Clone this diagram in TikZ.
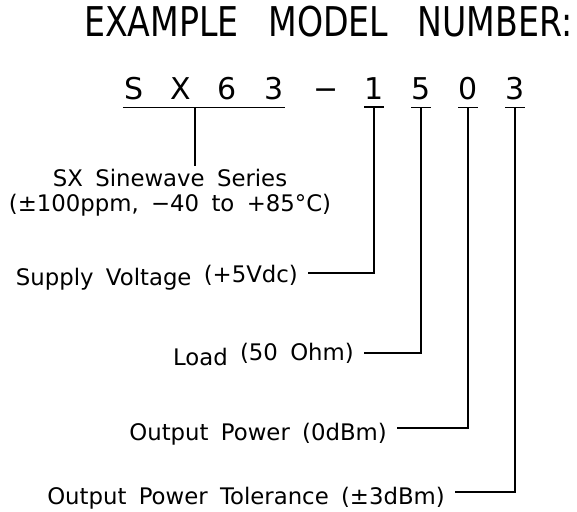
\documentclass[tikz,border=0pt]{standalone}
\usepackage{fontspec}
\newfontfamily\titlefont[FakeStretch=0.81,WordSpace=2.8]{DejaVu Sans}
\newfontfamily\labelfont[WordSpace=1.7]{DejaVu Sans}
\newcommand{\lblsize}{\labelfont\fontsize{22.8}{25}\selectfont}

\begin{document}
\begin{tikzpicture}[x=1pt,y=-1pt,
  lead/.style={line width=1.6pt},
  digit/.style={inner xsep=1.5pt,inner ysep=8pt,anchor=base,font=\labelfont\fontsize{30}{36}\selectfont},
  partlabel/.style={inner xsep=10pt,inner ysep=0pt,text height=24pt,text depth=0pt,anchor=base east,font=\lblsize}]
  \useasboundingbox (0,0) rectangle (577,511);

  % Title
  \node[anchor=base west,inner sep=0pt,font=\titlefont\fontsize{41}{48}\selectfont] (title) at (84,37) {EXAMPLE MODEL NUMBER:};

  % Model number, one node per character
  \foreach \ch/\x [count=\i] in {S/134,X/181,6/227,3/274,\symbol{"2212}/326,1/374,5/421,0/468,3/515}
    \node[digit] (c\i) at (\x,99) {\ch};

  % Series
  \node[anchor=north,align=center,inner xsep=0pt,inner ysep=3pt,font=\lblsize] (series) at (170,166)
    {SX Sinewave Series\\(±100ppm, \symbol{"2212}40 to +85°C)};
  \draw[lead] (c1.south west) -- (c4.south east);
  \coordinate (ul) at (195,107);
  \draw[lead] (ul) -- (ul |- series.north);

  % Option labels
  \node[partlabel] (supply) at (308,285) {Supply Voltage \raisebox{3pt}{(+5Vdc)}};
  \node[partlabel] (load) at (364,365) {Load \raisebox{5pt}{(50 Ohm)}};
  \node[partlabel] (opower) at (397,440) {Output Power (0dBm)};
  \node[partlabel] (ptol) at (455,504) {Output Power Tolerance (±3dBm)};

  % Lead lines
  \foreach \i/\lbl in {6/supply,7/load,8/opower,9/ptol}{
    \draw[lead] ([xshift=-10pt]c\i.south) -- ([xshift=10pt]c\i.south);
    \draw[lead] (c\i.south) |- (\lbl.east);
  }
\end{tikzpicture}
\end{document}
